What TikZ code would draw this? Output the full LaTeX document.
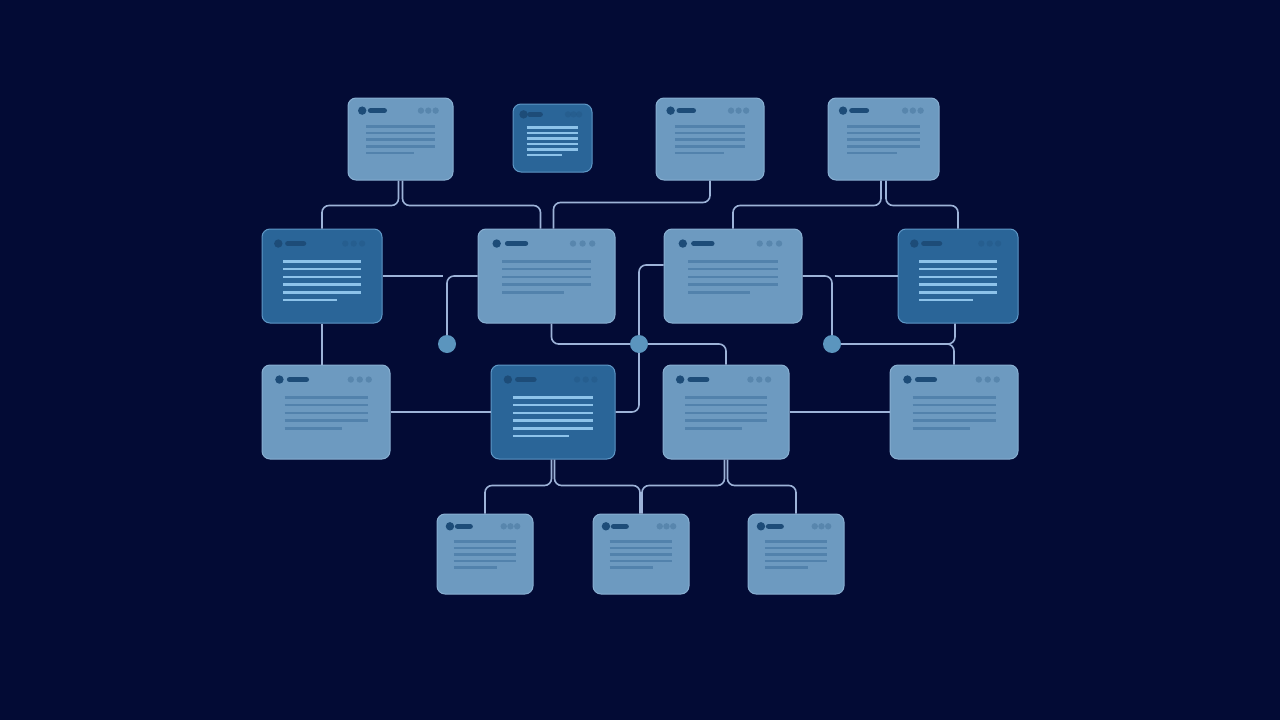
\documentclass[tikz,border=0pt]{standalone}

\definecolor{bgnavy}{HTML}{030B35}
\definecolor{cardlight}{HTML}{6D9AC0}
\definecolor{cardlightrim}{HTML}{88AFD1}
\definecolor{carddark}{HTML}{2A6598}
\definecolor{carddarkrim}{HTML}{5E97C6}
\definecolor{wirecol}{HTML}{9DB3D8}
\definecolor{dotcol}{HTML}{5B95BE}
\definecolor{inklight}{HTML}{5282AC}
\definecolor{inkdark}{HTML}{8DC3EA}
\definecolor{headink}{HTML}{1D4C78}

\tikzset{
  lightcard/.style={rectangle, rounded corners=8, inner sep=0, fill=cardlight, draw=cardlightrim, line width=1},
  darkcard/.style={rectangle, rounded corners=8, inner sep=0, fill=carddark, draw=carddarkrim, line width=1},
  wire/.style={draw=wirecol, line width=1.6, rounded corners=7},
  junction/.style={circle, inner sep=0, minimum size=18, fill=dotcol},
}

% header and text lines inside a card: node, width, height, lines, ink
\newcommand{\cardbody}[5]{%
  \fill[headink] (#1.north west) ++({0.14*#2},{0.16*#3}) circle (4.2);
  \draw[headink, line width=5.5, line cap=round] (#1.north west) ++({0.22*#2},{0.16*#3}) -- ++({0.13*#2},0);
  \foreach \d in {0,1,2}
    \fill[headink, opacity=0.25] (#1.north east) ++({(-0.31+0.07*\d)*#2},{0.16*#3}) circle (3.2);
  \foreach \k in {1,...,#4} {
    \pgfmathsetmacro{\len}{\k==#4 ? 0.45*#2 : 0.65*#2}
    \draw[#5, line width=2.6] (#1.north west) ++({0.18*#2},{(0.35+0.082*(\k-1))*#3}) -- ++(\len,0);
  }
}

\begin{document}
\begin{tikzpicture}[x=1pt, y=-1pt]

  \fill[bgnavy] (0,0) rectangle (1280,720);
  \useasboundingbox (0,0) rectangle (1280,720);

  % top row
  \node[lightcard, minimum width=105, minimum height=82] (T1) at (400.5,139) {};
  \node[darkcard, minimum width=79, minimum height=68] (T2) at (552.5,138) {};
  \node[lightcard, minimum width=108, minimum height=82] (T3) at (710,139) {};
  \node[lightcard, minimum width=111, minimum height=82] (T4) at (883.5,139) {};

  % second row
  \node[darkcard, minimum width=120, minimum height=94] (M1) at (322,276) {};
  \node[lightcard, minimum width=137, minimum height=94] (M2) at (546.5,276) {};
  \node[lightcard, minimum width=138, minimum height=94] (M3) at (733,276) {};
  \node[darkcard, minimum width=120, minimum height=94] (M4) at (958,276) {};

  % third row
  \node[lightcard, minimum width=128, minimum height=94] (R1) at (326,412) {};
  \node[darkcard, minimum width=124, minimum height=94] (R2) at (553,412) {};
  \node[lightcard, minimum width=126, minimum height=94] (R3) at (726,412) {};
  \node[lightcard, minimum width=128, minimum height=94] (R4) at (954,412) {};

  % bottom row
  \node[lightcard, minimum width=96, minimum height=80] (B1) at (485,554) {};
  \node[lightcard, minimum width=96, minimum height=80] (B2) at (641,554) {};
  \node[lightcard, minimum width=96, minimum height=80] (B3) at (796,554) {};

  % card contents
  \cardbody{T1}{105}{82}{5}{inklight}
  \cardbody{T2}{79}{68}{6}{inkdark}
  \cardbody{T3}{108}{82}{5}{inklight}
  \cardbody{T4}{111}{82}{5}{inklight}
  \cardbody{M1}{120}{94}{6}{inkdark}
  \cardbody{M2}{137}{94}{5}{inklight}
  \cardbody{M3}{138}{94}{5}{inklight}
  \cardbody{M4}{120}{94}{6}{inkdark}
  \cardbody{R1}{128}{94}{5}{inklight}
  \cardbody{R2}{124}{94}{6}{inkdark}
  \cardbody{R3}{126}{94}{5}{inklight}
  \cardbody{R4}{128}{94}{5}{inklight}
  \cardbody{B1}{96}{80}{5}{inklight}
  \cardbody{B2}{96}{80}{5}{inklight}
  \cardbody{B3}{96}{80}{5}{inklight}

  % junction dots and loose ends
  \node[junction] (d1) at (447,344) {};
  \node[junction] (d2) at (639,344) {};
  \node[junction] (d3) at (832,344) {};
  \coordinate (m1end) at (443,276);
  \coordinate (m4end) at (835,276);

  % wires from the top row
  \draw[wire] ([xshift=-2]T1.south) -- ++(0,25) -| (M1.north);
  \draw[wire] ([xshift=2]T1.south) -- ++(0,25) -| ([xshift=-6]M2.north);
  \draw[wire] (T3.south) -- ++(0,22) -| ([xshift=7]M2.north);
  \draw[wire] ([xshift=-2.5]T4.south) -- ++(0,25) -| (M3.north);
  \draw[wire] ([xshift=2.5]T4.south) -- ++(0,25) -| (M4.north);

  % wires round the dots
  \draw[wire] (M1.east) -- (m1end);
  \draw[wire] (d1.north) |- (M2.west);
  \draw[wire] ([xshift=5]M2.south) |- (d2.west);
  \draw[wire] (d2.east) -| (R3.north);
  \draw[wire] (d2.north) |- ([yshift=11]M3.west);
  \draw[wire] (d2.south) |- (R2.east);
  \draw[wire] (M3.east) -| (d3.north);
  \draw[wire] (m4end) -- (M4.west);
  \draw[wire] (d3.east) -| ([xshift=-3]M4.south);
  \draw[wire] (d3.east) -| (R4.north);
  \draw[wire] (M1.south) -- (M1.south |- R1.north);

  % third row links
  \draw[wire] (R1.east) -- (R2.west);
  \draw[wire] (R3.east) -- (R4.west);

  % wires to the bottom row
  \draw[wire] ([xshift=-1.5]R2.south) -- ++(0,26) -| (B1.north);
  \draw[wire] ([xshift=1.5]R2.south) -- ++(0,26) -| ([xshift=-1]B2.north);
  \draw[wire] ([xshift=-1.5]R3.south) -- ++(0,26) -| ([xshift=1]B2.north);
  \draw[wire] ([xshift=1.5]R3.south) -- ++(0,26) -| (B3.north);

\end{tikzpicture}
\end{document}
